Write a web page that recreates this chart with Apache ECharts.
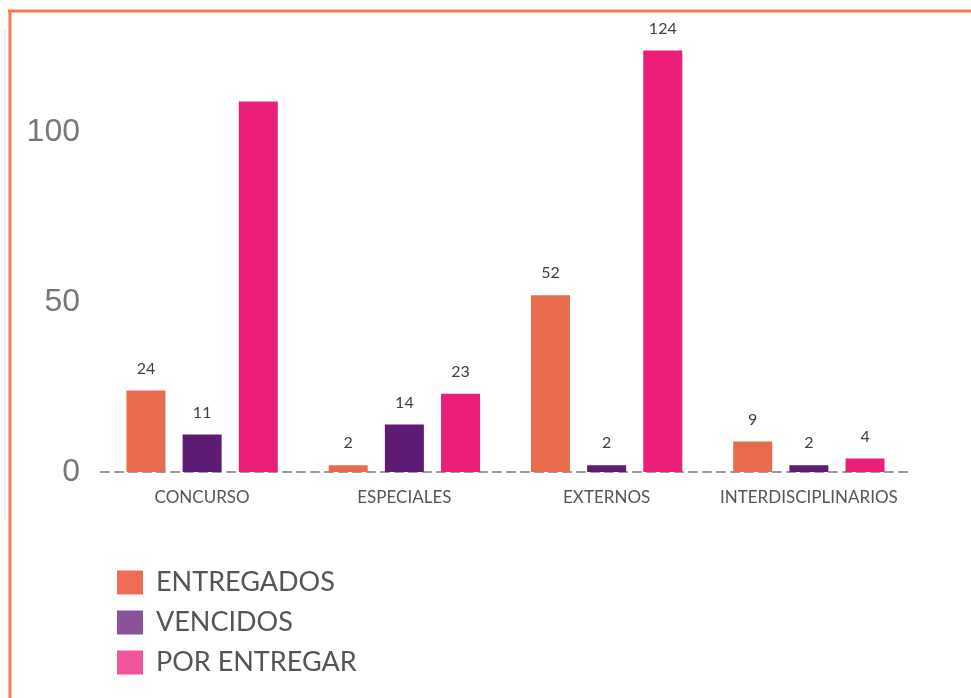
<!DOCTYPE html>
<html>
<head>
<meta charset="utf-8">
<script src="https://cdn.jsdelivr.net/npm/echarts@6/dist/echarts.min.js"></script>
<style>
  html, body { margin: 0; padding: 0; background: #fff; }
  #main { width: 971px; height: 698px; }
</style>
</head>
<body>
<div id="main"></div>
<script>
const categories = ['CONCURSO', 'ESPECIALES', 'EXTERNOS', 'INTERDISCIPLINARIOS']
const entregados = [24, 2, 52, 9]
const vencidos = [11, 14, 2, 2]
const porEntregar = [109, 23, 124, 4]
const yTicks = [0, 50, 100]

const barColors = ['#E86B4D', '#5E1B74', '#EC1F78']
const legendColors = ['#F26C54', '#8A5299', '#F0549B']
const names = ['ENTREGADOS', 'VENCIDOS', 'POR ENTREGAR']

const chart = echarts.init(document.getElementById('main'))

const labelStyle = {
  show: true,
  position: 'top',
  distance: 14,
  color: '#3f3f3f',
  fontSize: 16,
  fontFamily: 'Lato',
}

const makeSeries = (idx, values) => ({
  name: names[idx],
  type: 'bar',
  barWidth: 39,
  barGap: '44%',
  itemStyle: { color: barColors[idx] },
  label: labelStyle,
  data: values.map((v, i) => {
    // the tallest CONCURSO bar has no value shown in the original
    if (idx === 2 && i === 0) return { value: v, label: { show: false } }
    return v
  }),
})

chart.setOption({
  backgroundColor: '#fff',
  animation: false,
  graphic: [
    { type: 'line', shape: { x1: 8, y1: 11, x2: 971, y2: 11 }, style: { stroke: '#F47A50', lineWidth: 3 } },
    { type: 'line', shape: { x1: 10, y1: 10, x2: 10, y2: 698 }, style: { stroke: '#F47A50', lineWidth: 3 } },
    { type: 'line', shape: { x1: 5, y1: 30, x2: 5, y2: 520 }, style: { stroke: '#ddd', lineWidth: 1 } },
  ],
  legend: {
    orient: 'vertical',
    left: 112,
    top: 564,
    itemWidth: 26,
    itemHeight: 24,
    itemGap: 13,
    icon: 'rect',
    textStyle: { color: '#555', fontSize: 27, fontFamily: 'Lato', padding: [0, 0, 0, 8] },
    data: names.map((n, i) => ({ name: n, itemStyle: { color: legendColors[i] } })),
  },
  grid: {
    left: 101,
    right: 61,
    top: 30,
    bottom: 226,
    containLabel: false,
  },
  xAxis: {
    type: 'category',
    data: categories,
    axisLine: { show: true, lineStyle: { color: '#999', type: [8, 6], width: 2 } },
    axisTick: { show: false },
    axisLabel: {
      interval: 0,
      color: '#555',
      fontSize: 17,
      fontFamily: 'Lato',
      margin: 17,
    },
  },
  yAxis: {
    type: 'value',
    min: 0,
    max: 130,
    interval: 50,
    axisLine: { show: false },
    axisTick: { show: false },
    splitLine: { show: false },
    axisLabel: {
      color: '#777',
      fontSize: 32,
      fontFamily: 'Liberation Sans',
      margin: 21,
      formatter: (v) => (yTicks.includes(v) ? String(v) : ''),
    },
  },
  series: [
    makeSeries(0, entregados),
    makeSeries(1, vencidos),
    makeSeries(2, porEntregar),
  ],
})
</script>
</body>
</html>
